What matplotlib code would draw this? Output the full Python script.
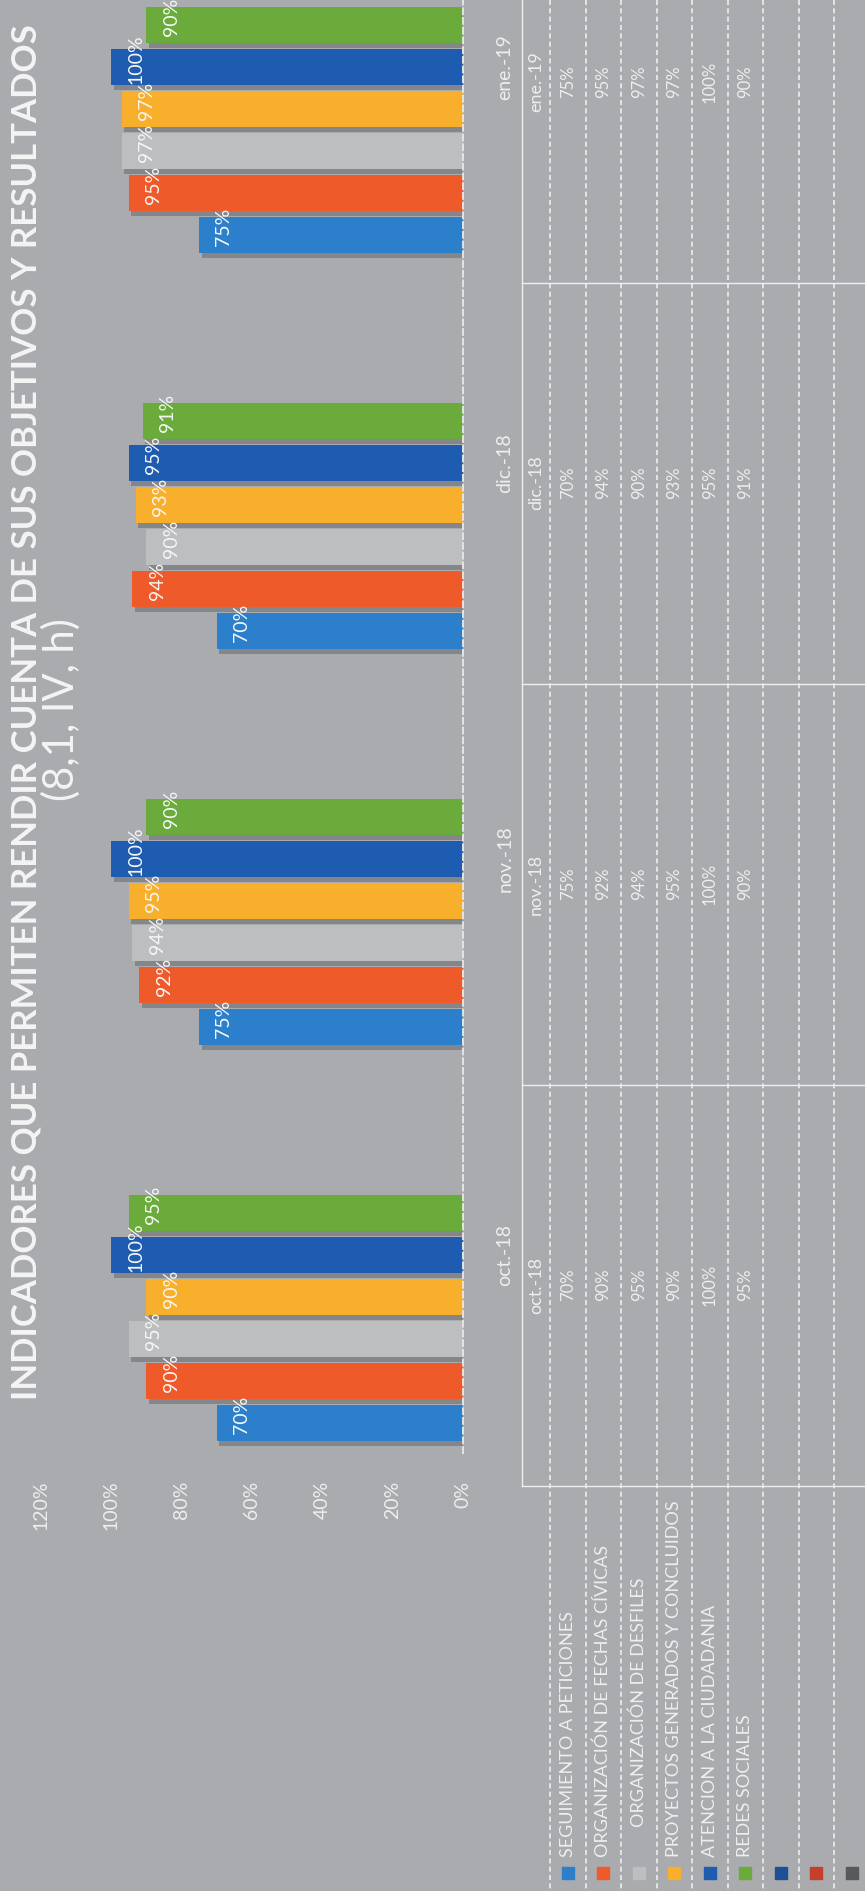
import matplotlib
matplotlib.use("Agg")
import matplotlib.pyplot as plt
import numpy as np

plt.rcParams["font.family"] = ["Lato", "DejaVu Sans"]

# %% data (photographed page, chart turned 90 degrees)
months = ["oct.-18", "nov.-18", "dic.-18", "ene.-19"]
series_names = [
    "SEGUIMIENTO A PETICIONES",
    "ORGANIZACIÓN DE FECHAS CÍVICAS",
    "ORGANIZACIÓN DE DESFILES",
    "PROYECTOS GENERADOS Y CONCLUIDOS",
    "ATENCION A LA CIUDADANIA",
    "REDES SOCIALES",
    "",
    "",
    "",
]
seguimiento = [70, 75, 70, 75]
fechas_civicas = [90, 92, 94, 95]
desfiles = [95, 94, 90, 97]
proyectos = [90, 95, 93, 97]
atencion = [100, 100, 95, 100]
redes = [95, 90, 91, 90]
# three empty series that only show up in the legend column
series_values = [seguimiento, fechas_civicas, desfiles, proyectos, atencion, redes, [], [], []]
value_ticks = [0, 20, 40, 60, 80, 100, 120]
title_1 = "INDICADORES QUE PERMITEN RENDIR CUENTA DE SUS OBJETIVOS Y RESULTADOS"
title_2 = "(8,1, IV, h)"

colors = ["#2b7fcb", "#ee5a2a", "#bdbec0", "#f8b02c", "#1d5cb0", "#6aab3b",
          "#1f4f95", "#c4402c", "#58595b"]
BG = "#a9abaf"
TXT = "#eeeeee"

W, H = 865, 1891
fig = plt.figure(figsize=(W / 100, H / 100), dpi=100, facecolor=BG)

# %% chart: horizontal bars growing to the left
base_x, scale = 463.0, 3.52          # px of value 0, px per percent
cat_y0, cat_step = 1255.0, 396.0     # image y of first month, spacing
ax_bottom = cat_y0 + 0.5 * cat_step
left_px = base_x - 120 * scale
ax = fig.add_axes([left_px / W, 1 - ax_bottom / H, (base_x - left_px) / W, ax_bottom / H])
ax.set_facecolor("none")
ax.set_xlim(120, 0)
ax.set_ylim(-0.5, cat_y0 / cat_step)

slot = 42.0 / cat_step
bar_h = 36.0 / cat_step
ypos = np.arange(len(months))
for i, vals in enumerate(series_values):
    if not vals:
        continue
    vals = np.asarray(vals)
    y = ypos + (i - 4) * slot
    ax.barh(y - 0.013, vals - 0.8, height=bar_h, color="#85868a", zorder=1)
    ax.barh(y, vals, height=bar_h, color=colors[i], zorder=2)
    for yy, v in zip(y, vals):
        ax.text(v - 7.1, yy + 0.02, f"{v}%", rotation=90, ha="center", va="center",
                color="#f6f6f6", fontsize=14, zorder=3)

ax.set_xticks(value_ticks)
ax.set_xticklabels([f"{t}%" for t in value_ticks])
ax.tick_params(axis="x", length=0, pad=20, labelsize=14, labelcolor=TXT, labelrotation=90)
ax.yaxis.tick_right()
ax.set_yticks(ypos)
ax.set_yticklabels(months)
ax.tick_params(axis="y", length=0, pad=24, labelsize=14, labelcolor=TXT)
for lab in ax.get_yticklabels():
    lab.set_rotation(90)
    lab.set_va("center")
for s in ["top", "left", "bottom"]:
    ax.spines[s].set_visible(False)
ax.spines["right"].set_color("#e4e4e4")
ax.spines["right"].set_linestyle((0, (3, 2)))
ax.spines["right"].set_linewidth(1.4)

# %% overlay in image pixels: title and data table
ov = fig.add_axes([0, 0, 1, 1])
ov.set_xlim(0, W)
ov.set_ylim(H, 0)
ov.axis("off")
ov.patch.set_visible(False)

ov.text(27, 712, title_1, rotation=90, ha="center", va="center", fontsize=25,
        fontweight="bold", color="#f4f4f4")
ov.text(61, 710, title_2, rotation=90, ha="center", va="center", fontsize=30,
        color="#f4f4f4")

head_top, head_bot, row_h = 522.0, 550.0, 35.5
col_c0, col_w = 1285.0, 401.0
line_kw = dict(color="#eeeeee", lw=1.0)
# row separators (dashed)
for r in range(len(series_names)):
    x = head_bot + r * row_h
    ov.plot([x, x], [0, H], color="#eeeeee", lw=1.2, ls=(0, (3, 2)))
# header top border and column dividers
ov.plot([head_top, head_top], [0, col_c0 + col_w / 2], **line_kw)
for k in range(len(months)):
    yb = col_c0 + col_w / 2 - k * col_w
    ov.plot([head_top, W], [yb, yb], **line_kw)

for k, m in enumerate(months):
    yc = col_c0 - k * col_w
    ov.text((head_top + head_bot) / 2, yc, m, rotation=90, ha="center", va="center",
            fontsize=13, color=TXT)
    for i, vals in enumerate(series_values):
        if vals:
            ov.text(head_bot + (i + 0.5) * row_h, yc, f"{vals[k]}%", rotation=90,
                    ha="center", va="center", fontsize=12, color=TXT)

# legend column
for i, name in enumerate(series_names):
    xc = head_bot + (i + 0.5) * row_h
    ov.add_patch(plt.Rectangle((xc - 6, 1867), 12, 12, color=colors[i]))
    if name:
        y_start = 1827 if i == 2 else 1857
        ov.text(xc, y_start, name, rotation=90, rotation_mode="anchor", ha="left",
                va="center", fontsize=13, color=TXT)

fig.savefig("out.png", dpi=100, facecolor=BG)
